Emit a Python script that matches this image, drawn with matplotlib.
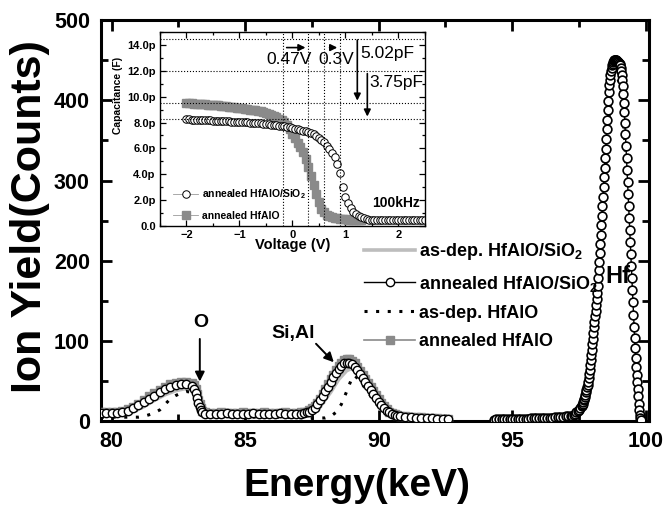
import matplotlib
matplotlib.use('Agg')
import matplotlib.pyplot as plt
from matplotlib.ticker import MultipleLocator

plt.rcParams['font.family'] = ['Liberation Sans', 'DejaVu Sans']
plt.rcParams['mathtext.fontset'] = 'custom'
plt.rcParams['mathtext.rm'] = 'Liberation Sans:bold'
plt.rcParams['mathtext.bf'] = 'Liberation Sans:bold'
plt.rcParams['mathtext.default'] = 'rm'

# ---------------- main RBS spectra ----------------
# low energy part (O and Si,Al signals)
E_low = [79.6, 79.8, 80.0, 80.2, 80.4, 80.6, 80.8, 81.0, 81.2, 81.4, 81.6, 81.8, 82.0, 82.2, 82.4, 82.6, 82.8, 83.0,
         83.1, 83.15, 83.2, 83.25, 83.3, 83.35, 83.4,
         83.5, 83.7, 83.9, 84.1, 84.3, 84.5, 84.7, 84.9, 85.1, 85.3, 85.5, 85.7, 85.9, 86.1, 86.3, 86.5, 86.7, 86.9, 87.1,
         87.2, 87.3, 87.4, 87.5, 87.6, 87.7, 87.8, 87.9, 88.0, 88.1, 88.2, 88.3, 88.4, 88.5, 88.6, 88.7, 88.8, 88.9,
         89.0, 89.1, 89.2, 89.3, 89.4, 89.5, 89.6, 89.7, 89.8, 89.9, 90.0, 90.1, 90.2, 90.3, 90.4, 90.5, 90.6, 90.7, 90.8,
         91.0, 91.2, 91.4, 91.6, 91.8, 92.0, 92.2, 92.4, 92.6]
ann_sio2_low = [10, 10, 10, 10, 11, 13, 16, 20, 24, 28, 32, 36, 40, 43, 45, 46, 46, 44,
                40, 35, 29, 23, 18, 14, 11,
                9, 9, 9, 9, 10, 9, 9, 9, 9, 10, 9, 9, 9, 9, 10, 9, 9, 9, 9,
                10, 11, 12, 14, 17, 21, 26, 31, 37, 43, 49, 55, 60, 65, 69, 72, 73, 73,
                71, 68, 64, 59, 54, 49, 44, 39, 34, 29, 24, 20, 16, 13, 11, 9, 8, 7, 6,
                5, 5, 4, 4, 4, 4, 3, 3, 3]
ann_hfalo_low = [11, 11, 11, 11, 13, 15, 18, 22, 26, 31, 35, 39, 43, 46, 48, 49, 49, 48,
                 45, 40, 34, 27, 21, 16, 13,
                 11, 10, 10, 11, 10, 10, 10, 11, 10, 10, 10, 11, 10, 10, 10, 11, 10, 10, 11,
                 11, 12, 14, 16, 19, 23, 28, 34, 40, 46, 52, 58, 64, 69, 73, 76, 77, 77,
                 75, 72, 68, 63, 58, 53, 48, 43, 38, 33, 28, 23, 19, 15, 12, 10, 9, 8, 7,
                 6, 5, 5, 5, 4, 4, 4, 3, 3]

E_asdep_sio2 = [79.6, 80.4, 80.8, 81.2, 81.6, 82.0, 82.4, 82.8, 83.0, 83.2, 83.4, 83.6, 85.0, 87.0, 87.4,
                87.8, 88.2, 88.5, 88.8, 89.0, 89.2, 89.6, 90.0, 90.4, 90.8, 91.5, 92.6]
asdep_sio2 = [8, 9, 12, 18, 26, 33, 38, 41, 40, 28, 12, 8, 8, 8, 10,
              18, 36, 52, 63, 66, 62, 45, 25, 10, 5, 4, 3]

E_asdep_hfalo = [79.6, 80.6, 81.0, 81.2, 81.5, 81.8, 82.0, 82.2, 82.4, 82.6, 82.8, 83.0, 83.2, 83.35, 83.5,
                 84.5, 86.0, 87.5, 88.0, 88.2, 88.4, 88.6, 88.8, 89.0, 89.1, 89.3, 89.6, 89.9, 90.2, 90.5,
                 91.0, 92.6]
asdep_hfalo = [5, 5, 5, 6, 9, 14, 21, 28, 32, 35, 37, 36, 22, 10, 6,
               5, 5, 4, 4, 6, 11, 21, 37, 54, 57, 50, 36, 22, 11, 5,
               3, 2]

# Hf signal
E_hf = [94.3, 94.4, 94.5, 94.6, 94.7, 94.8, 94.9, 95.0, 95.1, 95.2, 95.3, 95.4, 95.5, 95.6, 95.7,
        95.8, 95.9, 96.0, 96.1, 96.2, 96.3, 96.4, 96.5, 96.6, 96.7, 96.8, 96.9, 97.0, 97.1, 97.2,
        97.25, 97.30, 97.35, 97.40, 97.45, 97.50, 97.55,
        97.60, 97.62, 97.64, 97.66, 97.68, 97.70, 97.72, 97.74, 97.76, 97.78, 97.80, 97.82, 97.84, 97.86,
        97.88, 97.90, 97.92, 97.94, 97.96, 97.98, 98.00, 98.02, 98.04, 98.06, 98.08, 98.10, 98.12, 98.14,
        98.16, 98.18, 98.20, 98.22, 98.24, 98.26, 98.28, 98.30, 98.32, 98.34, 98.36, 98.38, 98.40, 98.42,
        98.44, 98.46, 98.48, 98.50, 98.52, 98.54, 98.56, 98.58, 98.60, 98.62, 98.64, 98.66, 98.68, 98.70,
        98.72, 98.74, 98.76, 98.78, 98.80, 98.82, 98.84, 98.86, 98.88, 98.90, 98.92, 98.94, 98.96, 98.98,
        99.00, 99.02, 99.04, 99.06, 99.08, 99.10, 99.12, 99.14, 99.16, 99.18, 99.20, 99.22, 99.24, 99.26,
        99.28, 99.30, 99.32, 99.34, 99.36, 99.38, 99.40, 99.42, 99.44, 99.46, 99.48, 99.50, 99.52, 99.54,
        99.56, 99.58, 99.60, 99.62, 99.64, 99.66, 99.68, 99.70, 99.72, 99.74, 99.76, 99.78, 99.80, 99.82]
ann_sio2_hf = [2, 3, 3, 3, 3, 3, 3, 3, 3, 3, 3, 3, 3, 3, 4,
               4, 4, 4, 4, 4, 4, 4, 4, 5, 5, 5, 5, 6, 6, 7,
               7, 8, 9, 11, 13, 14, 16,
               19, 20, 22, 24, 26, 28, 30, 33, 36, 39, 42, 45, 49, 54,
               59, 64, 70, 76, 82, 89, 96, 103, 110, 117, 124, 131, 138, 145,
               152, 160, 168, 178, 188, 199, 210, 221, 232, 244, 256, 268, 280, 292,
               304, 316, 328, 340, 352, 364, 376, 388, 399, 410, 419, 426, 432, 437,
               441, 444, 446, 448, 449, 450, 450, 450, 450, 450, 449, 449, 448, 448,
               447, 446, 444, 441, 437, 432, 426, 418, 408, 397, 385, 372, 358, 343,
               328, 313, 298, 283, 268, 253, 238, 223, 208, 193, 178, 163, 148, 133,
               118, 104, 91, 79, 68, 58, 49, 40, 31, 22, 14, 8, 4, 2]
E_hf_asdep = [94.3, 95.0, 96.0, 96.8, 97.2, 97.5, 97.8, 98.0, 98.2, 98.4, 98.6, 98.75, 98.9, 99.05,
              99.2, 99.35, 99.5, 99.65, 99.78]
asdep_hfalo_hf = [3, 3, 4, 4, 6, 12, 35, 75, 150, 260, 370, 420, 430, 420,
                  360, 260, 150, 55, 8]

# ---------------- inset C-V ----------------
V_sio2 = [-2.00, -1.95, -1.90, -1.85, -1.80, -1.75, -1.70, -1.65, -1.60, -1.55, -1.50, -1.45, -1.40, -1.35,
          -1.30, -1.25, -1.20, -1.15, -1.10, -1.05, -1.00, -0.95, -0.90, -0.85, -0.80, -0.75, -0.70, -0.65,
          -0.60, -0.55, -0.50, -0.45, -0.40, -0.35, -0.30, -0.25, -0.20, -0.15, -0.10, -0.05, 0.00, 0.05,
          0.10, 0.15, 0.20, 0.25, 0.30, 0.35, 0.40, 0.45, 0.50, 0.55, 0.60, 0.65, 0.70, 0.75, 0.80, 0.85,
          0.90, 0.95, 1.00, 1.05, 1.10, 1.15, 1.20, 1.25, 1.30, 1.35, 1.40, 1.45, 1.50, 1.55, 1.60, 1.65,
          1.70, 1.75, 1.80, 1.85, 1.90, 1.95, 2.00, 2.05, 2.10, 2.15, 2.20, 2.25, 2.30, 2.35, 2.40, 2.45, 2.50]
C_sio2 = [8.25, 8.24, 8.23, 8.22, 8.21, 8.20, 8.19, 8.18, 8.17, 8.16, 8.15, 8.14, 8.13, 8.12,
          8.11, 8.10, 8.09, 8.08, 8.07, 8.06, 8.05, 8.04, 8.03, 8.01, 8.00, 7.98, 7.97, 7.95,
          7.93, 7.91, 7.89, 7.87, 7.85, 7.82, 7.79, 7.76, 7.73, 7.70, 7.66, 7.62, 7.58, 7.54,
          7.49, 7.44, 7.38, 7.32, 7.25, 7.17, 7.08, 6.97, 6.84, 6.68, 6.48, 6.22, 5.95, 5.65, 5.30, 4.80,
          4.10, 3.00, 2.25, 1.75, 1.38, 1.12, 0.92, 0.78, 0.67, 0.59, 0.54, 0.50, 0.48, 0.46, 0.45, 0.45,
          0.45, 0.44, 0.44, 0.44, 0.44, 0.44, 0.44, 0.44, 0.44, 0.44, 0.44, 0.44, 0.44, 0.44, 0.44, 0.44, 0.44]
V_hfalo = [-2.00, -1.95, -1.90, -1.85, -1.80, -1.75, -1.70, -1.65, -1.60, -1.55, -1.50, -1.45, -1.40, -1.35,
           -1.30, -1.25, -1.20, -1.15, -1.10, -1.05, -1.00, -0.95, -0.90, -0.85, -0.80, -0.75, -0.70, -0.65,
           -0.60, -0.55, -0.50, -0.45, -0.40, -0.35, -0.30, -0.25, -0.20, -0.15, -0.10, -0.05, 0.00, 0.05,
           0.10, 0.15, 0.20, 0.25, 0.30, 0.35, 0.40, 0.45, 0.50, 0.55, 0.60, 0.65, 0.70, 0.75, 0.80, 0.85,
           0.90, 0.95, 1.00, 1.05, 1.10, 1.15, 1.20, 1.25, 1.30]
C_hfalo = [9.50, 9.49, 9.48, 9.46, 9.45, 9.44, 9.42, 9.41, 9.39, 9.38, 9.36, 9.34, 9.32, 9.30,
           9.28, 9.26, 9.23, 9.21, 9.18, 9.16, 9.13, 9.10, 9.07, 9.04, 9.01, 8.97, 8.94, 8.90,
           8.86, 8.81, 8.76, 8.70, 8.62, 8.52, 8.42, 8.30, 8.18, 8.02, 7.80, 7.50, 7.15, 6.80,
           6.45, 6.10, 5.70, 5.20, 4.60, 3.90, 3.20, 2.50, 1.85, 1.35, 1.05, 0.88, 0.78, 0.70, 0.64, 0.60,
           0.57, 0.55, 0.52, 0.50, 0.48, 0.47, 0.46, 0.45, 0.44]

fig = plt.figure(figsize=(6.69, 5.05), dpi=100)
ax = fig.add_axes([0.151, 0.166, 0.819, 0.794])

gray_sq = '#8a8a8a'
# as-dep lines under the annealed markers
l_b, = ax.plot(E_asdep_sio2, asdep_sio2, color='#bdbdbd', lw=2.6, zorder=2)
l_c, = ax.plot(E_asdep_hfalo, asdep_hfalo, color='black', lw=2.2, linestyle=(0, (1, 2.8)), zorder=2)
ax.plot(E_hf_asdep, asdep_hfalo_hf, color='black', lw=2.2, linestyle=(0, (1, 2.8)), zorder=2)
l_d, = ax.plot(E_low, ann_hfalo_low, color=gray_sq, lw=1.2, marker='s', ms=6.3, mfc=gray_sq, mec=gray_sq, zorder=3)
l_a, = ax.plot(E_low, ann_sio2_low, color='black', lw=1.0, marker='o', ms=6.0, mfc='white', mec='black',
               mew=1.0, zorder=4)
ax.plot(E_hf, ann_sio2_hf, color='black', lw=1.0, marker='o', ms=6.3, mfc='white', mec='black', mew=1.2, zorder=4)

ax.set_xlim(79.6, 100.12)
ax.set_ylim(0, 500)
ax.xaxis.set_major_locator(MultipleLocator(5))
ax.xaxis.set_minor_locator(MultipleLocator(2.5))
ax.yaxis.set_major_locator(MultipleLocator(100))
ax.yaxis.set_minor_locator(MultipleLocator(50))
ax.tick_params(which='both', direction='in', top=True, right=True, width=2.0)
ax.tick_params(which='major', length=8)
ax.tick_params(which='minor', length=5)
ax.tick_params(axis='x', pad=7)
ax.tick_params(axis='y', pad=8)
for lab in ax.get_xticklabels() + ax.get_yticklabels():
    lab.set_fontsize(15.5)
    lab.set_fontweight('bold')
for s in ax.spines.values():
    s.set_linewidth(2.2)

ax.set_xlabel('Energy(keV)', fontsize=28, fontweight='bold')
ax.set_ylabel('Ion Yield(Counts)', fontsize=31, fontweight='bold')
ax.xaxis.set_label_coords(0.467, -0.118)
ax.yaxis.set_label_coords(-0.093, 0.51)

ax.text(83.33, 123, 'O', fontsize=14, fontweight='bold', ha='center', va='center')
ax.annotate('', xy=(83.3, 46), xytext=(83.3, 106),
            arrowprops=dict(arrowstyle='-|>', color='black', lw=1.4, mutation_scale=14))
ax.text(86.78, 109, 'Si,Al', fontsize=14, fontweight='bold', ha='center', va='center')
ax.annotate('', xy=(88.39, 71), xytext=(87.58, 99),
            arrowprops=dict(arrowstyle='-|>', color='black', lw=1.4, mutation_scale=14))
ax.text(98.97, 181, 'Hf', fontsize=17, fontweight='bold', ha='center', va='center', zorder=6)

leg = ax.legend([l_b, l_a, l_c, l_d],
                ['as-dep. HfAlO/SiO$_2$', 'annealed HfAlO/SiO$_2$', 'as-dep. HfAlO', 'annealed HfAlO'],
                loc='upper left', bbox_to_anchor=(0.531, 0.540), bbox_transform=fig.transFigure,
                frameon=False, borderpad=0, handlelength=2.8, handletextpad=0.25, labelspacing=0.62,
                numpoints=1, prop={'weight': 'bold', 'size': 13})

# ---------------- inset ----------------
ins = fig.add_axes([0.239, 0.5525, 0.396, 0.384])
ins.set_facecolor('white')
ins.set_zorder(5)
i_sq, = ins.plot(V_hfalo, C_hfalo, color='#9a9a9a', lw=0.6, marker='s', ms=5.4, mfc=gray_sq, mec=gray_sq,
                 linestyle='none')
i_ci, = ins.plot(V_sio2, C_sio2, color='#9a9a9a', lw=0.6, marker='o', ms=5.4, mfc='white', mec='black',
                 mew=0.7, linestyle='none')
ins.set_xlim(-2.5, 2.5)
ins.set_ylim(0, 15)
ins.xaxis.set_major_locator(MultipleLocator(1))
ins.xaxis.set_minor_locator(MultipleLocator(0.5))
ins.set_yticks([0, 2, 4, 6, 8, 10, 12, 14])
ins.set_yticklabels(['0.0', '2.0p', '4.0p', '6.0p', '8.0p', '10.0p', '12.0p', '14.0p'])
ins.yaxis.set_minor_locator(MultipleLocator(1))
ins.tick_params(which='both', direction='in', top=True, right=True, width=0.9, labelsize=8)
ins.tick_params(which='major', length=4)
ins.tick_params(which='minor', length=2.5)
ins.tick_params(axis='x', pad=3)
ins.tick_params(axis='y', pad=3)
for lab in ins.get_xticklabels() + ins.get_yticklabels():
    lab.set_fontweight('bold')
for s in ins.spines.values():
    s.set_linewidth(1.0)
ins.set_xlabel('Voltage (V)', fontsize=10.5, fontweight='bold')
ins.set_ylabel('Capacitance (F)', fontsize=7.5, fontweight='bold')
ins.xaxis.set_label_coords(0.5, -0.063)
ins.yaxis.set_label_coords(-0.14, 0.675)

for yv in [14.5, 12.0, 9.48, 8.25]:
    ins.axhline(yv, color='black', lw=0.8, linestyle=':')
for xv in [-0.17, 0.30, 0.60, 0.90]:
    ins.axvline(xv, color='black', lw=0.8, linestyle=':')

ap = dict(arrowstyle='-|>', color='black', lw=1.2, mutation_scale=10)
ins.annotate('', xy=(0.30, 13.8), xytext=(-0.16, 13.8), arrowprops=ap)
ins.annotate('', xy=(0.90, 13.8), xytext=(0.65, 13.8), arrowprops=ap)
ins.annotate('', xy=(1.226, 9.48), xytext=(1.226, 14.6), arrowprops=ap)
ins.annotate('', xy=(1.415, 8.25), xytext=(1.415, 12.0), arrowprops=ap)
ins.text(-0.49, 12.9, '0.47V', fontsize=12.5, ha='left', va='center')
ins.text(0.49, 12.9, '0.3V', fontsize=12.5, ha='left', va='center')
ins.text(1.28, 13.35, '5.02pF', fontsize=12.5, ha='left', va='center')
ins.text(1.46, 11.07, '3.75pF', fontsize=12.5, ha='left', va='center')
ins.text(1.95, 1.74, '100kHz', fontsize=10, fontweight='bold', ha='center', va='center')

i_ci_h, = ins.plot([], [], color='#9a9a9a', lw=0.6, marker='o', ms=5.4, mfc='white', mec='black', mew=0.7)
i_sq_h, = ins.plot([], [], color='#9a9a9a', lw=0.6, marker='s', ms=5.4, mfc=gray_sq, mec=gray_sq)
ins.legend([i_ci_h, i_sq_h], ['annealed HfAlO/SiO$_2$', 'annealed HfAlO'],
           loc='lower left', bbox_to_anchor=(0.03, 0.0), frameon=False, borderpad=0,
           handlelength=2.4, handletextpad=0.4, labelspacing=0.9, numpoints=1,
           prop={'weight': 'bold', 'size': 7.5})

fig.savefig('out.png', dpi=100)
